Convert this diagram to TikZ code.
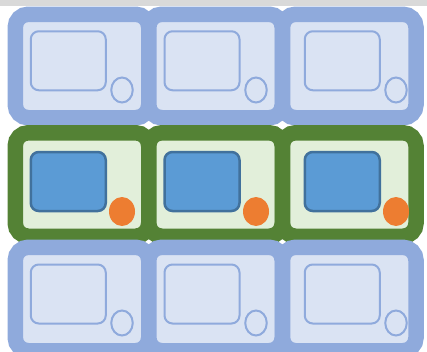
\documentclass[tikz,border=0pt]{standalone}
\usetikzlibrary{shapes.geometric}
\definecolor{idleedge}{HTML}{8FAADC}
\definecolor{idlefill}{HTML}{DAE3F3}
\definecolor{activeedge}{HTML}{548235}
\definecolor{activefill}{HTML}{E2EFDA}
\definecolor{screenfill}{HTML}{5B9BD5}
\definecolor{screenedge}{HTML}{41719C}
\definecolor{knobfill}{HTML}{ED7D31}
\definecolor{topbar}{HTML}{D9D9D9}
\begin{document}
\begin{tikzpicture}[x=1pt,y=-1pt,
  frame/.style={draw,rounded corners=13pt,line width=15.5pt,
    minimum width=133.5pt,minimum height=103.5pt,inner sep=0pt,outer sep=0pt},
  idle/.style={frame,draw=idleedge,fill=idlefill},
  active/.style={frame,draw=activeedge,fill=activefill},
  screen/.style={rounded corners=8pt,minimum width=75pt,minimum height=59pt,inner sep=0pt},
  idlescreen/.style={screen,draw=idleedge,line width=2pt},
  activescreen/.style={screen,draw=screenedge,fill=screenfill,line width=2.5pt},
  idleknob/.style={ellipse,draw=idleedge,line width=2pt,
    minimum width=21.5pt,minimum height=25pt,inner sep=0pt},
  activeknob/.style={ellipse,fill=knobfill,
    minimum width=26pt,minimum height=29pt,inner sep=0pt}]
\clip (0,0) rectangle (427,351);
\fill[topbar] (0,0) rectangle (427,6);
% rows top to bottom, each row laid over the previous one
\foreach \row/\y/\sy/\ky/\kind in {1/66/60.75/90/idle,2/184.5/181.5/211.5/active,3/299/294/323/idle}{
  \foreach \col/\x/\sx/\kx in {1/82/68.25/122,2/215.5/202/256,3/349.25/342.25/396}{
    \node[\kind] (cell-\row-\col) at (\x,\y) {};
    \node[\kind screen] (screen-\row-\col) at (\sx,\sy) {};
    \node[\kind knob] (knob-\row-\col) at (\kx,\ky) {};
  }
}
\end{tikzpicture}
\end{document}
